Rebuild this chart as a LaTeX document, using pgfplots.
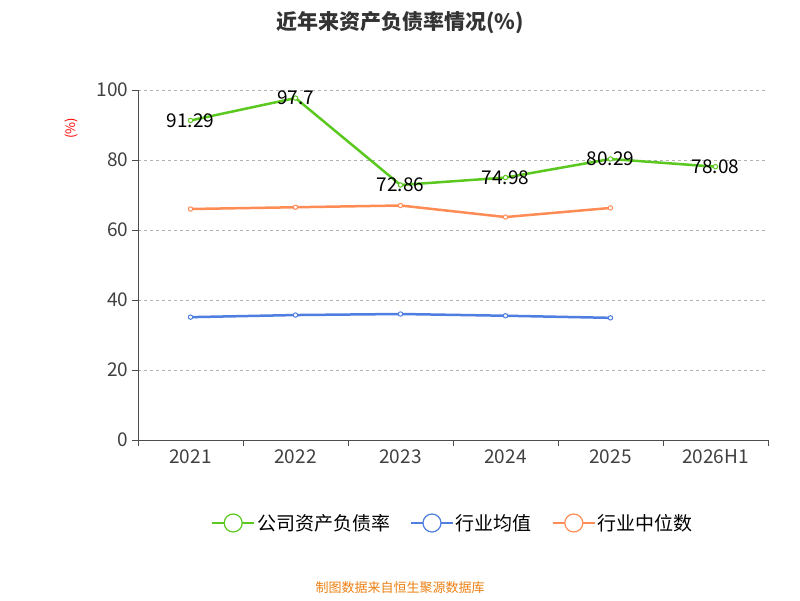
\documentclass[border=0pt]{standalone}
\usepackage{pgfplots}
\pgfplotsset{compat=1.18}
\usepackage{fontspec}
\setmainfont{Noto Sans CJK SC}
\definecolor{cg}{HTML}{5AC81E}
\definecolor{cb}{HTML}{4E7FE0}
\definecolor{co}{HTML}{FF8C55}
\begin{document}
\begin{tikzpicture}
\path[use as bounding box] (0,0) rectangle (800pt,600pt);
\node[font=\bfseries\fontsize{21}{24}\selectfont,text=black!80] at (400pt,577pt) {近年来资产负债率情况(\%)};
\node[font=\fontsize{13}{14}\selectfont,text=orange!70!brown] at (400pt,12pt) {制图数据来自恒生聚源数据库};
\begin{axis}[at={(138pt,160pt)},anchor=south west,width=630pt,height=350pt,scale only axis,
 xmin=0,xmax=6,ymin=0,ymax=100,
 xtick={0,1,2,3,4,5,6},xticklabels={},
 major tick length=6pt,
 extra x ticks={0.5,1.5,2.5,3.5,4.5,5.5},extra x tick labels={2021,2022,2023,2024,2025,2026H1},
 extra x tick style={major tick length=0pt,grid=none},
 ytick={0,20,40,60,80,100},ymajorgrids,grid style={dashed,black!30},
 axis x line*=bottom,axis y line*=left,
 y axis line style={black!70},x axis line style={black!70},
 tick style={black!70},
 xtick align=outside,ytick align=outside,
 tick label style={font=\fontsize{19}{20}\selectfont,text=black!75},
 xticklabel style={yshift=-6pt},
 /pgf/number format/assume math mode=true,
 ylabel={(\%)},ylabel style={text=red,font=\fontsize{13}{14}\selectfont,at={(-0.09,0.89)}},
 legend style={at={(0.5,-0.2)},anchor=north,draw=none,legend columns=3,font=\fontsize{19}{20}\selectfont,/tikz/every even column/.append style={column sep=18pt}},
 legend image code/.code={\draw[#1,line width=1.8pt](0pt,0pt)--(42pt,0pt);\draw[#1,fill=white,line width=1.2pt](21pt,0pt) circle(9pt);},
 every axis plot/.append style={line width=2.5pt,mark=*,mark options={fill=white,line width=1pt,scale=1.1}},
 nodes near coords style={font=\fontsize{19}{20}\selectfont,text=black,anchor=center}
]
\addplot[cg,nodes near coords,point meta=explicit symbolic] coordinates {(0.5,91.29)[91.29] (1.5,97.7)[97.7] (2.5,72.86)[72.86] (3.5,74.98)[74.98] (4.5,80.29)[80.29] (5.5,78.08)[78.08]};
\addlegendentry{公司资产负债率}
\addplot[cb] coordinates {(0.5,35.1) (1.5,35.7) (2.5,36.0) (3.5,35.5) (4.5,34.9)};
\addlegendentry{行业均值}
\addplot[co] coordinates {(0.5,66.0) (1.5,66.5) (2.5,67.0) (3.5,63.7) (4.5,66.3)};
\addlegendentry{行业中位数}
\end{axis}
\end{tikzpicture}
\end{document}
